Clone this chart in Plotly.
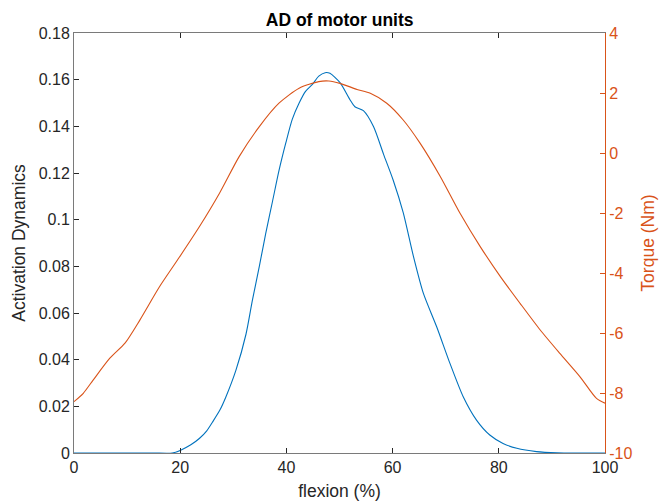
import plotly.graph_objects as go

# Activation dynamics (left axis) over the flexion cycle
ad_x = [0, 5, 10, 15, 18.5, 20, 22, 23.6, 25, 26.1, 27.5, 28.6, 30.5, 32.4, 33.6,
        34.9, 36.1, 37.4, 38.6, 39.9, 41.1, 42.4, 43.6, 44.9, 46.1, 47.3, 48.2,
        50.1, 52, 52.9, 54.5, 56.4, 58.3, 60.1, 62, 63.9, 65.8, 68.3, 70.8, 73.3,
        75.8, 78.3, 80.8, 83.4, 87.1, 91, 95, 100]
ad_y = [0, 0, 0, 0, 0, 0.0011, 0.0035, 0.0062, 0.0095, 0.0133, 0.0185, 0.024,
        0.0355, 0.051, 0.0655, 0.080, 0.094, 0.108, 0.121, 0.133, 0.143, 0.150,
        0.155, 0.158, 0.1615, 0.163, 0.1627, 0.1587, 0.1513, 0.1484, 0.1467,
        0.1399, 0.128, 0.117, 0.103, 0.0845, 0.0684, 0.0541, 0.0384, 0.0241,
        0.0141, 0.0077, 0.0041, 0.002, 0.0006, 0.0001, 0, 0]

# Joint torque (right axis)
tq_x = [0, 1.75, 3.6, 6.75, 9.6, 12.4, 16.1, 19.9, 23.6, 27.4, 31.1, 34.9, 38.6,
        42.4, 46.1, 48, 50.1, 53.3, 55.8, 58.9, 62, 65.2, 69, 72.7, 76.5, 80.3,
        84, 87.8, 91.5, 95.3, 98.4, 100]
tq_y = [-8.29, -8.01, -7.57, -6.84, -6.34, -5.57, -4.46, -3.46, -2.46, -1.34,
        -0.12, 0.88, 1.66, 2.16, 2.38, 2.40, 2.32, 2.12, 1.99, 1.66, 1.1, 0.32,
        -0.79, -2.01, -3.12, -4.12, -5.01, -5.9, -6.68, -7.46, -8.18, -8.34]

x_ticks = [0, 20, 40, 60, 80, 100]
left_ticks = [0, 0.02, 0.04, 0.06, 0.08, 0.1, 0.12, 0.14, 0.16, 0.18]
left_labels = ["0", "0.02", "0.04", "0.06", "0.08", "0.1", "0.12", "0.14", "0.16", "0.18"]
right_ticks = [-10, -8, -6, -4, -2, 0, 2, 4]
right_labels = ["-10", "-8", "-6", "-4", "-2", "0", "2", "4"]

BLUE = "#0072BD"
ORANGE = "#D95319"
AXIS = "#7a7a7a"
TEXT = "#262626"
FONT = "Liberation Sans, Arial, sans-serif"

fig = go.Figure()
fig.add_trace(go.Scatter(x=ad_x, y=ad_y, mode="lines",
                         line=dict(color=BLUE, width=1.1, shape="spline", smoothing=0.7),
                         yaxis="y", showlegend=False))
fig.add_trace(go.Scatter(x=tq_x, y=tq_y, mode="lines",
                         line=dict(color=ORANGE, width=1.1, shape="spline", smoothing=0.7),
                         yaxis="y2", showlegend=False))

fig.update_layout(
    width=666, height=504,
    margin=dict(l=74, r=61, t=33, b=51),
    paper_bgcolor="white", plot_bgcolor="white",
    font=dict(family=FONT, color=TEXT, size=16),
    title=dict(text="<b>AD of motor units</b>", x=0.51, xanchor="center",
               y=1 - 20 / 504, yanchor="middle",
               font=dict(size=17.5, color="black", family=FONT)),
    xaxis=dict(range=[0, 100], tickvals=x_ticks, ticks="inside", ticklen=5,
               tickcolor=TEXT, showline=True, linecolor=AXIS, linewidth=1,
               mirror="ticks", showgrid=False, zeroline=False, automargin=False,
               tickfont=dict(size=16, color=TEXT),
               title=dict(text="flexion (%)", font=dict(size=17.5, color=TEXT), standoff=9)),
    yaxis=dict(range=[0, 0.18], tickvals=left_ticks, ticktext=left_labels,
               ticks="inside", ticklen=5, tickcolor=TEXT, showline=True,
               linecolor=AXIS, linewidth=1, showgrid=False, zeroline=False,
               automargin=False, tickfont=dict(size=16, color=TEXT),
               title=dict(text="Activation Dynamics", font=dict(size=17.5, color=TEXT), standoff=8)),
    yaxis2=dict(range=[-10, 4], tickvals=right_ticks, ticktext=right_labels,
                overlaying="y", side="right", ticks="inside", ticklen=5,
                tickcolor=ORANGE, showline=True, linecolor=ORANGE, linewidth=1,
                showgrid=False, zeroline=False, automargin=False,
                tickfont=dict(size=16, color=ORANGE),
                title=dict(text="Torque (Nm)", font=dict(size=17.5, color=ORANGE), standoff=10)),
)

fig.write_html("out.html")
